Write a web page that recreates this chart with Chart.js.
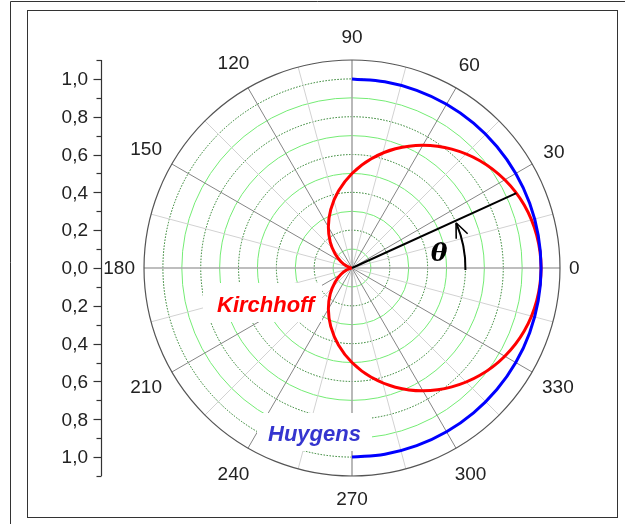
<!DOCTYPE html>
<html>
<head>
<meta charset="utf-8">
<script src="https://cdn.jsdelivr.net/npm/chart.js@4/dist/chart.umd.min.js"></script>
<style>
  body { margin: 0; background: #fff; }
  canvas { display: block; }
</style>
</head>
<body>
<canvas id="polar" width="625" height="524"></canvas>
<script>
// angles in degrees, radius values
const kirchAngles = [-180, -170, -160, -150, -140, -130, -120, -110, -100, -90, -80, -70, -60, -50, -40, -30, -20, -10,
    0, 10, 20, 30, 40, 50, 60, 70, 80, 90, 100, 110, 120, 130, 140, 150, 160, 170, 180]
const kirchhoff = [0.000, 0.008, 0.030, 0.067, 0.117, 0.179, 0.250, 0.329, 0.413, 0.500, 0.587, 0.671, 0.750, 0.821, 0.883, 0.933, 0.970, 0.992,
    1.000, 0.992, 0.970, 0.933, 0.883, 0.821, 0.750, 0.671, 0.587, 0.500, 0.413, 0.329, 0.250, 0.179, 0.117, 0.067, 0.030, 0.008, 0.000]
const huyAngles = [-90, -80, -70, -60, -50, -40, -30, -20, -10, 0, 10, 20, 30, 40, 50, 60, 70, 80, 90]
const huygens = [1, 1, 1, 1, 1, 1, 1, 1, 1, 1, 1, 1, 1, 1, 1, 1, 1, 1, 1]

const angleLabels = [0, 30, 60, 90, 120, 150, 180, 210, 240, 270, 300, 330]
const radialTicks = [1.0, 0.8, 0.6, 0.4, 0.2, 0.0, -0.2, -0.4, -0.6, -0.8, -1.0]
const gridRings = [0.1, 0.2, 0.3, 0.4, 0.5, 0.6, 0.7, 0.8, 0.9, 1.0]
const rMax = 1.1

// theta marker: ray to the Kirchhoff curve and the arc arrow
const thetaAngle = 24.5
const thetaRay = 0.955
const arcRadius = 0.6
const arcFrom = -1
const arcTo = 23

const toXY = (angles, rs) => angles.map((a, i) => ({
    x: rs[i] * Math.cos(a * Math.PI / 180),
    y: rs[i] * Math.sin(a * Math.PI / 180),
}))

const polarDecor = {
    id: 'polarDecor',
    beforeDatasetsDraw(chart) {
        const ctx = chart.ctx
        const xs = chart.scales.x
        const ys = chart.scales.y
        const cx = xs.getPixelForValue(0)
        const cy = ys.getPixelForValue(0)
        const rad = r => xs.getPixelForValue(r) - cx
        const pt = (r, deg) => ({
            x: xs.getPixelForValue(r * Math.cos(deg * Math.PI / 180)),
            y: ys.getPixelForValue(r * Math.sin(deg * Math.PI / 180)),
        })

        ctx.save()
        // rings
        gridRings.forEach((r, i) => {
            ctx.beginPath()
            ctx.arc(cx, cy, rad(r), 0, Math.PI * 2)
            if (i % 2 === 0) {
                ctx.setLineDash([])
                ctx.strokeStyle = '#74ec74'
            } else {
                ctx.setLineDash([1.5, 1.5])
                ctx.strokeStyle = '#217a21'
            }
            ctx.lineWidth = 1
            ctx.stroke()
        })
        ctx.setLineDash([])

        // spokes every 15 degrees
        for (let a = 0; a < 360; a += 15) {
            const p = pt(rMax, a)
            ctx.beginPath()
            ctx.moveTo(cx, cy)
            ctx.lineTo(p.x, p.y)
            if (a % 90 === 0) {
                ctx.strokeStyle = '#a8a8a8'
                ctx.lineWidth = 1.6
            } else if (a % 30 === 0) {
                ctx.strokeStyle = '#858585'
                ctx.lineWidth = 1
            } else {
                ctx.strokeStyle = '#d2d2d2'
                ctx.lineWidth = 1
            }
            ctx.stroke()
        }

        // outer circle
        ctx.beginPath()
        ctx.arc(cx, cy, rad(rMax), 0, Math.PI * 2)
        ctx.strokeStyle = '#555'
        ctx.lineWidth = 1.2
        ctx.stroke()

        // white boxes behind the series labels
        ctx.fillStyle = '#fff'
        ctx.fillRect(203, 283, 119, 39)
        ctx.fillRect(257, 413, 115, 38)
        ctx.restore()
    },
    afterDatasetsDraw(chart) {
        const ctx = chart.ctx
        const xs = chart.scales.x
        const ys = chart.scales.y
        const cx = xs.getPixelForValue(0)
        const cy = ys.getPixelForValue(0)
        const rad = r => xs.getPixelForValue(r) - cx
        const pt = (r, deg) => ({
            x: xs.getPixelForValue(r * Math.cos(deg * Math.PI / 180)),
            y: ys.getPixelForValue(r * Math.sin(deg * Math.PI / 180)),
        })

        ctx.save()
        // angle labels
        ctx.font = '19px "Liberation Sans", Arial, sans-serif'
        ctx.fillStyle = '#222'
        ctx.textAlign = 'center'
        ctx.textBaseline = 'middle'
        angleLabels.forEach(a => {
            const t = String(a)
            const hw = ctx.measureText(t).width / 2
            const c = Math.abs(Math.cos(a * Math.PI / 180))
            const s = Math.abs(Math.sin(a * Math.PI / 180))
            const d = rad(rMax) + 9 + hw * c + 14 * s
            ctx.fillText(t, cx + d * Math.cos(a * Math.PI / 180), cy - d * Math.sin(a * Math.PI / 180) + 1)
        })

        // left radial axis (mirrored)
        const axX = 101.5
        ctx.strokeStyle = '#333'
        ctx.lineWidth = 1.2
        ctx.beginPath()
        ctx.moveTo(axX, ys.getPixelForValue(rMax))
        ctx.lineTo(axX, ys.getPixelForValue(-rMax))
        ctx.stroke()
        for (let i = -11; i <= 11; i++) {
            const y = Math.round(ys.getPixelForValue(i / 10)) + 0.5
            const len = i % 2 === 0 ? 8 : 5
            ctx.beginPath()
            ctx.moveTo(axX - len, y)
            ctx.lineTo(axX, y)
            ctx.stroke()
        }
        ctx.textAlign = 'right'
        radialTicks.forEach(v => {
            const t = Math.abs(v).toFixed(1).replace('.', ',')
            ctx.fillText(t, 88, ys.getPixelForValue(v) + 1)
        })

        // theta ray
        const end = pt(thetaRay, thetaAngle)
        ctx.strokeStyle = '#000'
        ctx.lineWidth = 2
        ctx.beginPath()
        ctx.moveTo(cx, cy)
        ctx.lineTo(end.x, end.y)
        ctx.stroke()

        // arc arrow
        const ar = rad(arcRadius)
        ctx.beginPath()
        ctx.arc(cx, cy, ar, -arcFrom * Math.PI / 180, -arcTo * Math.PI / 180, true)
        ctx.stroke()
        const tip = pt(arcRadius, arcTo + 0.5)
        const tang = (arcTo + 0.5 + 90) * Math.PI / 180
        const back = tang + Math.PI
        ctx.lineWidth = 1.6
        ctx.beginPath()
        ;[-0.4, 0.4].forEach(off => {
            ctx.moveTo(tip.x, tip.y)
            ctx.lineTo(tip.x + 16 * Math.cos(back + off), tip.y - 16 * Math.sin(back + off))
        })
        ctx.stroke()

        // theta symbol
        ctx.font = 'bold italic 25px "DejaVu Serif", "Liberation Serif", serif'
        ctx.textAlign = 'center'
        ctx.fillStyle = '#000'
        ctx.fillText('θ', 439, 254)

        // series labels
        ctx.font = 'bold italic 22px "Liberation Sans", Arial, sans-serif'
        ctx.textAlign = 'left'
        ctx.textBaseline = 'alphabetic'
        ctx.fillStyle = '#ff0000'
        ctx.fillText('Kirchhoff', 217, 312)
        ctx.fillStyle = '#3535cf'
        ctx.fillText('Huygens', 268, 441)

        // frames
        ctx.strokeStyle = '#333'
        ctx.lineWidth = 1
        ctx.beginPath()
        ctx.moveTo(10.5, 524)
        ctx.lineTo(10.5, 1.5)
        ctx.lineTo(625, 1.5)
        ctx.stroke()
        ctx.strokeRect(27.5, 10.5, 590, 507)
        ctx.restore()
    },
}

const ctx = document.getElementById('polar').getContext('2d')
new Chart(ctx, {
    type: 'scatter',
    data: {
        datasets: [
            {
                label: 'Kirchhoff',
                data: toXY(kirchAngles, kirchhoff),
                showLine: true,
                borderColor: '#ff0000',
                borderWidth: 3,
                pointRadius: 0,
                tension: 0.4,
                order: 2,
            },
            {
                label: 'Huygens',
                data: toXY(huyAngles, huygens),
                showLine: true,
                borderColor: '#0000ff',
                borderWidth: 3,
                pointRadius: 0,
                tension: 0.4,
                order: 1,
            },
        ],
    },
    options: {
        responsive: false,
        animation: false,
        layout: {
            padding: {left: 144, right: 65, top: 60, bottom: 48},
        },
        scales: {
            x: {type: 'linear', min: -rMax, max: rMax, display: false},
            y: {type: 'linear', min: -rMax, max: rMax, display: false},
        },
        plugins: {
            legend: {display: false},
            tooltip: {enabled: false},
        },
    },
    plugins: [polarDecor],
})
</script>
</body>
</html>
